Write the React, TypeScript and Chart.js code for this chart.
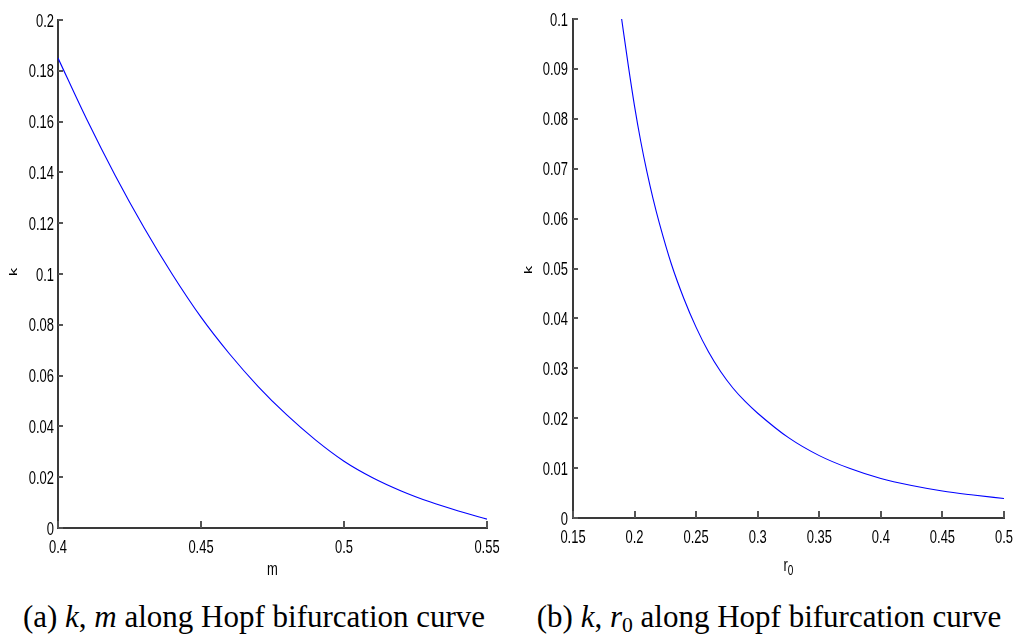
import React, { useEffect, useRef } from "react";
import { Chart, registerables } from "chart.js";

Chart.register(...registerables);

// ---- Panel (a): k vs m along Hopf bifurcation curve ----
const mValues = [0.40, 0.41, 0.42, 0.43, 0.44, 0.45, 0.46, 0.47, 0.48, 0.49, 0.50, 0.51, 0.52, 0.53, 0.54, 0.55];
const kAlongM = [0.185, 0.161, 0.1388, 0.1184, 0.0998, 0.083, 0.0685, 0.0557, 0.0445, 0.0347, 0.0263, 0.0198, 0.0146, 0.0103, 0.0067, 0.0035];
const mTicks = [0.4, 0.45, 0.5, 0.55];
const kTicksA = [0, 0.02, 0.04, 0.06, 0.08, 0.1, 0.12, 0.14, 0.16, 0.18, 0.2];

// ---- Panel (b): k vs r0 along Hopf bifurcation curve ----
const r0Values = [0.1895, 0.195, 0.2, 0.205, 0.21, 0.215, 0.22, 0.23, 0.24, 0.25, 0.26, 0.27, 0.28, 0.29, 0.3, 0.325, 0.35, 0.375, 0.4, 0.425, 0.45, 0.475, 0.5];
const kAlongR0 = [0.1, 0.0905, 0.0825, 0.0755, 0.0694, 0.064, 0.0592, 0.0508, 0.044, 0.0382, 0.0333, 0.0293, 0.026, 0.0233, 0.021, 0.0161, 0.0125, 0.0099, 0.0079, 0.0065, 0.0054, 0.0046, 0.0039];
const r0Ticks = [0.15, 0.2, 0.25, 0.3, 0.35, 0.4, 0.45, 0.5];
const kTicksB = [0, 0.01, 0.02, 0.03, 0.04, 0.05, 0.06, 0.07, 0.08, 0.09, 0.1];

const SANS = "'Liberation Sans', Arial, sans-serif";
const SQUEEZE = 0.72;
const AXIS_COLOR = "#3a3a3a";

type PanelProps = {
  width: number;
  height: number;
  xs: number[];
  ys: number[];
  xTicks: number[];
  yTicks: number[];
  xMin: number;
  xMax: number;
  yMin: number;
  yMax: number;
  leftW: number;
  bottomH: number;
  padTop: number;
  padRight: number;
  yLabelPad: number;
  xLabelBaseline: number;
  xTitle: string;
  xSub?: string;
  xTitleY: number;
  yTitle: string;
  yTitleX: number;
  yTitleY: number;
};

function squeezedText(ctx: CanvasRenderingContext2D, text: string, x: number, y: number, align: "left" | "center" | "right") {
  ctx.save();
  ctx.translate(x, y);
  ctx.scale(SQUEEZE, 1);
  ctx.textAlign = align;
  ctx.textBaseline = "alphabetic";
  ctx.fillText(text, 0, 0);
  ctx.restore();
}

function makeDecor(p: PanelProps) {
  return {
    id: "axisDecor",
    afterDraw(chart: any) {
      const ctx: CanvasRenderingContext2D = chart.ctx;
      const area = chart.chartArea;
      const xs = chart.scales.x;
      const ys = chart.scales.y;
      ctx.save();
      ctx.setTransform(1, 0, 0, 1, 0, 0);
      ctx.globalAlpha = 1;
      // inward tick marks
      ctx.fillStyle = "#555555";
      const bottom = Math.round(area.bottom);
      const left = Math.round(area.left);
      for (const t of xs.ticks) {
        const px = Math.round(xs.getPixelForValue(t.value));
        ctx.fillRect(px - 1, bottom - 7, 2, 7);
      }
      for (const t of ys.ticks) {
        const py = Math.round(ys.getPixelForValue(t.value));
        ctx.fillRect(left, py - 1, 5, 2);
      }

      // tick labels (from the scales' own ticks)
      ctx.fillStyle = "#000000";
      ctx.font = `18px ${SANS}`;
      for (const t of xs.ticks) {
        const px = xs.getPixelForValue(t.value);
        squeezedText(ctx, String(t.label), px, p.xLabelBaseline, "center");
      }
      for (const t of ys.ticks) {
        const py = ys.getPixelForValue(t.value);
        squeezedText(ctx, String(t.label), area.left - p.yLabelPad, py + 6.5, "right");
      }

      // x axis title (with optional subscript)
      const cx = (area.left + area.right) / 2;
      ctx.font = `18px ${SANS}`;
      const w1 = ctx.measureText(p.xTitle).width * SQUEEZE;
      let w2 = 0;
      if (p.xSub) {
        ctx.font = `14px ${SANS}`;
        w2 = ctx.measureText(p.xSub).width * SQUEEZE;
      }
      const startX = cx - (w1 + w2) / 2;
      ctx.font = `18px ${SANS}`;
      squeezedText(ctx, p.xTitle, startX, p.xTitleY, "left");
      if (p.xSub) {
        ctx.font = `14px ${SANS}`;
        squeezedText(ctx, p.xSub, startX + w1, p.xTitleY + 4, "left");
      }

      // y axis title, rotated
      ctx.save();
      ctx.translate(p.yTitleX, p.yTitleY);
      ctx.scale(0.6, 1);
      ctx.rotate(-Math.PI / 2);
      ctx.font = `17px ${SANS}`;
      ctx.textAlign = "center";
      ctx.textBaseline = "alphabetic";
      ctx.fillText(p.yTitle, 0, 0);
      ctx.restore();

      ctx.restore();
    },
  };
}

function Panel(p: PanelProps) {
  const ref = useRef<HTMLCanvasElement>(null);
  useEffect(() => {
    const chart = new Chart(ref.current as HTMLCanvasElement, {
      type: "line",
      data: {
        datasets: [
          {
            data: p.xs.map((x, i) => ({ x, y: p.ys[i] })),
            borderColor: "#0000ff",
            borderWidth: 1.1,
            pointRadius: 0,
            fill: false,
            cubicInterpolationMode: "monotone",
          },
        ],
      },
      options: {
        animation: false,
        responsive: false,
        devicePixelRatio: 1,
        events: [],
        layout: { padding: { top: p.padTop, right: p.padRight, left: 0, bottom: 0 } },
        plugins: {
          legend: { display: false },
          tooltip: { enabled: false },
        },
        scales: {
          x: {
            type: "linear",
            min: p.xMin,
            max: p.xMax,
            afterBuildTicks: (s: any) => {
              s.ticks = p.xTicks.map((v) => ({ value: v }));
            },
            afterFit: (s: any) => {
              s.height = p.bottomH;
              s.paddingLeft = 0;
              s.paddingRight = 0;
              s.paddingTop = 0;
              s.paddingBottom = 0;
            },
            grid: { display: false, drawTicks: false },
            border: { display: true, color: AXIS_COLOR, width: 2 },
            ticks: {
              display: false,
              autoSkip: false,
              maxRotation: 0,
              callback: (v: any) => String(v),
            },
          },
          y: {
            type: "linear",
            min: p.yMin,
            max: p.yMax,
            afterBuildTicks: (s: any) => {
              s.ticks = p.yTicks.map((v) => ({ value: v }));
            },
            afterFit: (s: any) => {
              s.width = p.leftW;
              s.paddingLeft = 0;
              s.paddingRight = 0;
              s.paddingTop = 0;
              s.paddingBottom = 0;
            },
            grid: { display: false, drawTicks: false },
            border: { display: true, color: AXIS_COLOR, width: 2 },
            ticks: {
              display: false,
              autoSkip: false,
              callback: (v: any) => String(v),
            },
          },
        },
      },
      plugins: [makeDecor(p)],
    });
    return () => chart.destroy();
  }, []);
  return <canvas ref={ref} width={p.width} height={p.height} style={{ display: "block" }} />;
}

const captionStyle: React.CSSProperties = {
  position: "absolute",
  top: 601,
  fontFamily: "'Liberation Serif', 'Times New Roman', serif",
  fontSize: 31,
  lineHeight: "31px",
  whiteSpace: "nowrap",
  transform: "translateX(-50%)",
  color: "#000",
};

export default function App() {
  return (
    <div style={{ position: "absolute", left: 0, top: 0, width: 1016, height: 635, background: "#fff", overflow: "hidden" }}>
      <div style={{ position: "absolute", left: 0, top: 0 }}>
        <Panel
          width={500}
          height={590}
          xs={mValues}
          ys={kAlongM}
          xTicks={mTicks}
          yTicks={kTicksA}
          xMin={0.4}
          xMax={0.55}
          yMin={0}
          yMax={0.2}
          leftW={58}
          bottomH={62}
          padTop={20}
          padRight={13}
          yLabelPad={4}
          xLabelBaseline={553}
          xTitle="m"
          xTitleY={575}
          yTitle="k"
          yTitleX={17}
          yTitleY={272}
        />
      </div>
      <div style={{ position: "absolute", left: 500, top: 0 }}>
        <Panel
          width={516}
          height={590}
          xs={r0Values}
          ys={kAlongR0}
          xTicks={r0Ticks}
          yTicks={kTicksB}
          xMin={0.15}
          xMax={0.5}
          yMin={0}
          yMax={0.1}
          leftW={73}
          bottomH={72}
          padTop={19}
          padRight={12}
          yLabelPad={5}
          xLabelBaseline={543}
          xTitle="r"
          xSub="0"
          xTitleY={571}
          yTitle="k"
          yTitleX={32}
          yTitleY={270}
        />
      </div>
      <div style={{ ...captionStyle, left: 254 }}>
        (a) <i>k</i>, <i>m</i> along Hopf bifurcation curve
      </div>
      <div style={{ ...captionStyle, left: 769 }}>
        (b) <i>k</i>, <i>r</i>
        <sub style={{ fontSize: "0.7em", verticalAlign: "-0.25em", lineHeight: 0 }}>0</sub> along Hopf bifurcation curve
      </div>
    </div>
  );
}
